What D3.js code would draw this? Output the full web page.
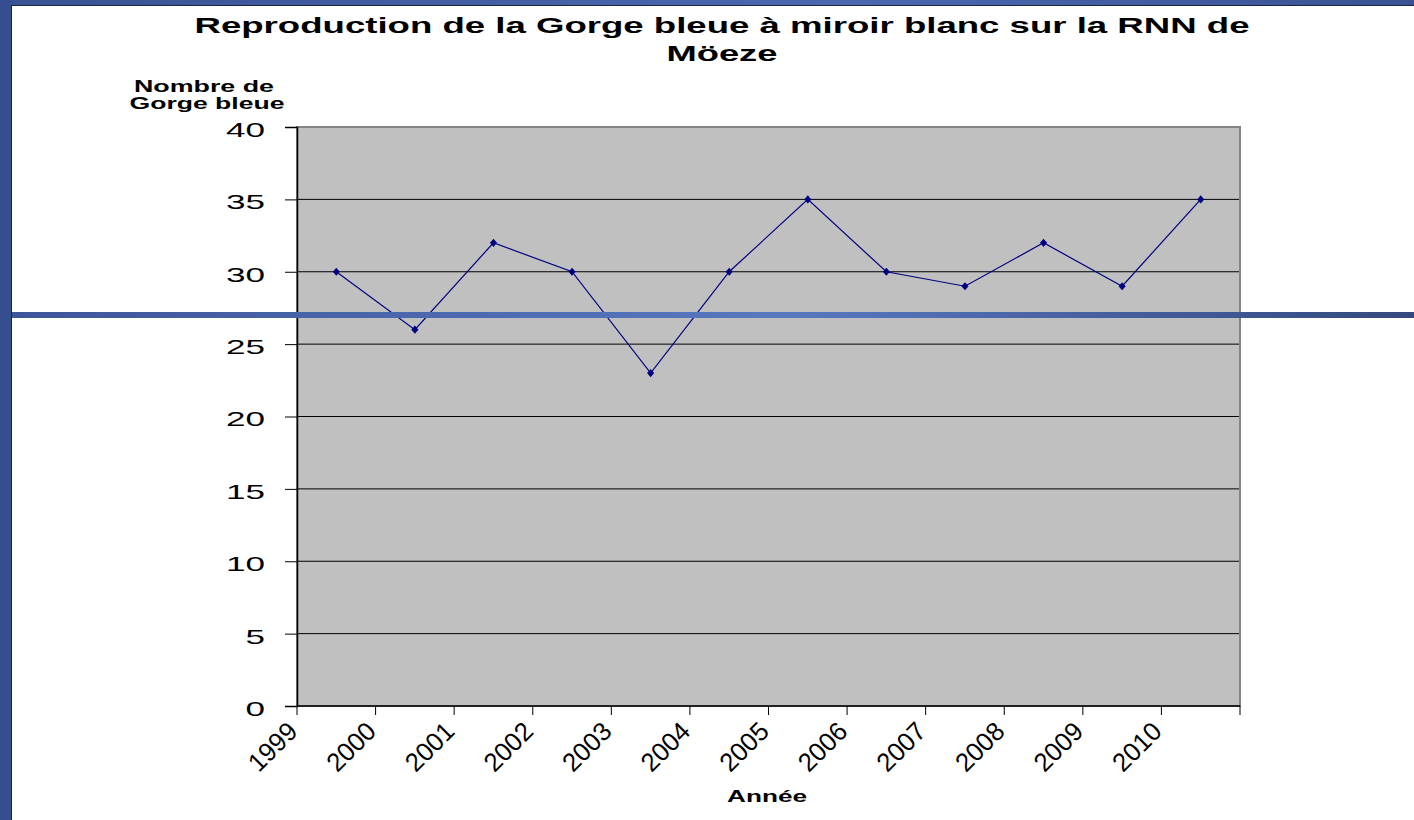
<!DOCTYPE html>
<html><head><meta charset="utf-8">
<script src="https://cdn.jsdelivr.net/npm/d3@7"></script>
<style>body{margin:0;background:#fff;overflow:hidden}svg{display:block}</style>
</head><body>
<svg id="c" width="1414" height="820"></svg>
<script>
const categories = ["1999","2000","2001","2002","2003","2004","2005","2006","2007","2008","2009","2010"];
const values = [30, 26, 32, 30, 23, 30, 35, 30, 29, 32, 29, 35];
const yTicks = [0, 5, 10, 15, 20, 25, 30, 35, 40];

const svg = d3.select("#c");
const W = 1414, H = 820;
const L = 297, R = 1240, T = 127, B = 706;
const tf = "Liberation Sans, Arial, sans-serif";

// background frame
const defs = svg.append("defs");
const g1 = defs.append("linearGradient").attr("id","hg").attr("x1","0").attr("x2","1");
g1.append("stop").attr("offset","0").attr("stop-color","#3d5699");
g1.append("stop").attr("offset","0.55").attr("stop-color","#5878c0");
g1.append("stop").attr("offset","1").attr("stop-color","#34497f");
const g2 = defs.append("linearGradient").attr("id","tg").attr("x1","0").attr("x2","1");
g2.append("stop").attr("offset","0").attr("stop-color","#3a5293");
g2.append("stop").attr("offset","0.6").attr("stop-color","#4a68b0");
g2.append("stop").attr("offset","1").attr("stop-color","#3a5293");
svg.append("rect").attr("x",0).attr("y",0).attr("width",W).attr("height",6).attr("fill","url(#tg)");
svg.append("rect").attr("x",0).attr("y",0).attr("width",11).attr("height",H).attr("fill","#344e8f");
svg.append("rect").attr("x",11).attr("y",5).attr("width",1).attr("height",H).attr("fill","#1a2540");
svg.append("rect").attr("x",11).attr("y",5).attr("width",W).attr("height",1).attr("fill","#1a2540");

const x = d3.scaleBand().domain(categories).range([L, R]).padding(0);
const y = d3.scaleLinear().domain([0, 40]).range([B, T]);

svg.append("rect").attr("x",L).attr("y",T).attr("width",R-L).attr("height",B-T)
  .attr("fill","#c0c0c0").attr("stroke","#858585").attr("stroke-width",2);

// gridlines
svg.append("g").selectAll("line").data(yTicks.filter(d=>d>0 && d<40)).join("line")
  .attr("x1",L).attr("x2",R-1).attr("y1",d=>y(d)).attr("y2",d=>y(d))
  .attr("stroke","#000").attr("stroke-width",1);

// y axis
const yAxis = svg.append("g").attr("transform",`translate(${L},0)`)
  .call(d3.axisLeft(y).tickValues(yTicks).tickSize(12).tickPadding(20));
yAxis.select(".domain").attr("stroke","#000").attr("stroke-width",1.5);
yAxis.selectAll(".tick line").attr("stroke","#000");
yAxis.selectAll("text").attr("font-family",tf).attr("font-size",21).attr("fill","#000")
  .attr("dy","0.45em")
  .attr("textLength",d=>String(d).length*19.5).attr("lengthAdjust","spacingAndGlyphs");

// x axis: tick marks at category boundaries
const bounds = categories.map(c => x(c)).concat([R]);
const xg = svg.append("g");
xg.append("line").attr("x1",L).attr("x2",R).attr("y1",B).attr("y2",B).attr("stroke","#000").attr("stroke-width",1.5);
xg.selectAll("line.t").data(bounds).join("line").attr("class","t")
  .attr("x1",d=>d).attr("x2",d=>d).attr("y1",B).attr("y2",B+9).attr("stroke","#000");
xg.selectAll("text").data(categories).join("text")
  .attr("transform",c=>`translate(${x(c)+2},${B+27}) rotate(-45)`)
  .attr("text-anchor","end")
  .attr("font-family",tf).attr("font-size",26)
  .attr("textLength",57).attr("lengthAdjust","spacingAndGlyphs")
  .text(c=>c);

// line
const line = d3.line().x((d,i)=>x(categories[i]) + x.bandwidth()/2).y(d=>y(d));
svg.append("path").datum(values).attr("d",line).attr("fill","none").attr("stroke","#000080").attr("stroke-width",1.2);
svg.append("g").selectAll("path").data(values).join("path")
  .attr("d", d3.symbol(d3.symbolDiamond, 30))
  .attr("transform",(d,i)=>`translate(${x(categories[i]) + x.bandwidth()/2},${y(d)}) scale(1.2,0.8)`)
  .attr("fill","#000080");

// titles
function txt(s, cx, by, size, len){
  svg.append("text").attr("x",cx).attr("y",by).attr("text-anchor","middle").attr("font-family",tf)
    .attr("font-weight","bold").attr("font-size",size)
    .attr("textLength",len).attr("lengthAdjust","spacingAndGlyphs").text(s);
}
txt("Reproduction de la Gorge bleue à miroir blanc sur la RNN de", 722, 33, 22, 1055);
txt("Möeze", 722, 61, 22, 111);
txt("Nombre de", 204, 92, 16, 140);
txt("Gorge bleue", 207, 109, 16, 155);
txt("Année", 767, 802, 16, 80);

// horizontal decorative bar
svg.append("rect").attr("x",12).attr("y",312).attr("width",W-12).attr("height",6).attr("fill","url(#hg)");
</script>
</body></html>
